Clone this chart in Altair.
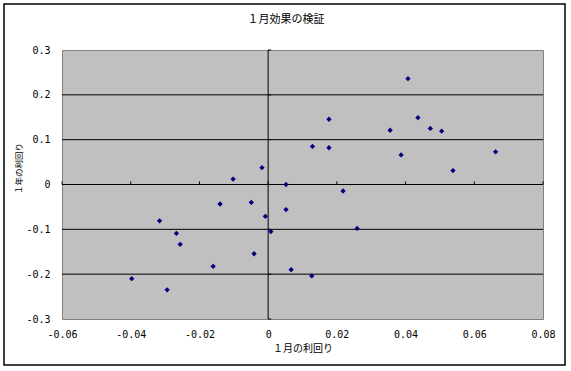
import altair as alt
import pandas as pd

# Data
jan_returns = [-0.0102, -0.0018, 0.0052, 0.0407, 0.0177, 0.0129, 0.0177, 0.0355,
               0.0436, 0.0472, 0.0505, 0.0387, 0.0218, 0.0662, 0.0538, -0.0140,
               -0.0049, -0.0008, 0.0052, -0.0316, 0.0008, -0.0267, -0.0256, -0.0041,
               -0.0160, 0.0067, -0.0397, -0.0294, 0.0259, 0.0127]
year_returns = [0.012, 0.0375, 0.000, 0.236, 0.1455, 0.085, 0.082, 0.121,
                0.149, 0.125, 0.119, 0.066, -0.0145, 0.073, 0.031, -0.0435,
                -0.040, -0.071, -0.056, -0.081, -0.105, -0.109, -0.1335, -0.1545,
                -0.1826, -0.190, -0.210, -0.235, -0.098, -0.204]
x_ticks = [-0.06, -0.04, -0.02, 0, 0.02, 0.04, 0.06, 0.08]
y_ticks = [-0.3, -0.2, -0.1, 0, 0.1, 0.2, 0.3]
inner_grid = [-0.2, -0.1, 0.1, 0.2]
chart_title = ["１月効果の検証"]

W, H = 481, 269
NUM_FONT = "DejaVu Sans Mono"
JP_FONT = "Noto Sans CJK JP"

df = pd.DataFrame({"jan": jan_returns, "year": year_returns})
grid_df = pd.DataFrame({"year": inner_grid})
zero_df = pd.DataFrame({"jan": [0], "year": [0]})
xtick_df = pd.DataFrame({"jan": x_ticks, "year": [0] * len(x_ticks)})
ytick_df = pd.DataFrame({"jan": [0] * len(y_ticks), "year": y_ticks})
title_df = pd.DataFrame({"t": chart_title})

xscale = alt.Scale(domain=[-0.06, 0.08], nice=False, zero=False)
yscale = alt.Scale(domain=[-0.3, 0.3], nice=False, zero=False)
label_expr = "replace(format(datum.value, '~g'), '\u2212', '-')"

x_axis = alt.Axis(values=x_ticks, title="１月の利回り", grid=False, domain=False,
                  ticks=False, labelExpr=label_expr, labelFont=NUM_FONT,
                  labelFontSize=10, labelColor="black", labelPadding=10,
                  titleFont=JP_FONT, titleFontSize=10, titleFontWeight="normal",
                  titleColor="black", titlePadding=4, labelFlush=False)
y_axis = alt.Axis(values=y_ticks, title="１年の利回り", grid=False, domain=False,
                  ticks=False, labelExpr=label_expr, labelFont=NUM_FONT,
                  labelFontSize=10, labelColor="black", labelPadding=12,
                  titleFont=JP_FONT, titleFontSize=8.5, titleFontWeight="normal",
                  titleColor="black", titlePadding=2, titleY=118, labelFlush=False)

X = lambda: alt.X("jan:Q", scale=xscale, axis=x_axis)
Y = lambda: alt.Y("year:Q", scale=yscale, axis=y_axis)

grid = alt.Chart(grid_df).mark_rule(color="black", strokeWidth=1).encode(y=Y())
hzero = alt.Chart(zero_df).mark_rule(color="black", strokeWidth=1).encode(y=Y())
vzero = alt.Chart(zero_df).mark_rule(color="black", strokeWidth=1).encode(x=X())
xticks = alt.Chart(xtick_df).mark_tick(orient="vertical", size=3, thickness=1,
                                       color="black", yOffset=-1.5, opacity=1).encode(x=X(), y=Y())
yticks = alt.Chart(ytick_df).mark_tick(orient="horizontal", size=3, thickness=1,
                                       color="black", xOffset=1.5, opacity=1).encode(x=X(), y=Y())
points = alt.Chart(df).mark_point(shape="diamond", filled=True, color="#000080",
                                  size=28, opacity=1).encode(x=X(), y=Y())

border = alt.Chart(zero_df).mark_rect(fill=None, stroke="black", strokeWidth=1.5,
                                      clip=False).encode(
    x=alt.value(-58), x2=alt.value(503), y=alt.value(-46), y2=alt.value(315))

title_mark = alt.Chart(title_df).mark_text(font=JP_FONT, fontSize=11, color="black",
                                           align="center", baseline="middle").encode(
    text="t:N", x=alt.value(224), y=alt.value(-30))

chart = alt.layer(border, grid, hzero, vzero, xticks, yticks, points, title_mark).properties(
    width=W, height=H,
    autosize=alt.AutoSizeParams(type="none"),
    padding={"left": 62, "top": 50, "right": 28, "bottom": 52},
    background="white",
).configure_view(fill="#C0C0C0", stroke="#808080", strokeWidth=1)

chart.save("out.html", embed_options={"renderer": "svg", "actions": False})
